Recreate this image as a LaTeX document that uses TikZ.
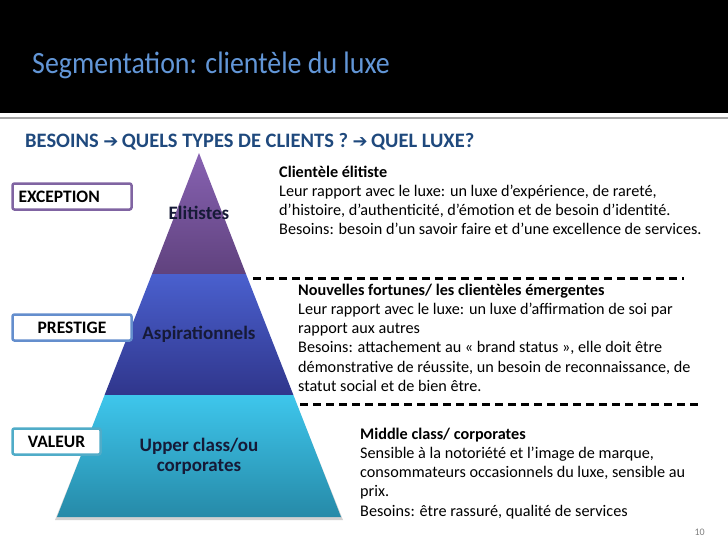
\documentclass[tikz,border=0pt]{standalone}
\usepackage{fontspec}
\setmainfont{Carlito}
\newfontfamily\dejavu{DejaVu Sans}
\definecolor{titleblue}{RGB}{98,150,215}
\definecolor{subblue}{RGB}{31,73,125}
\definecolor{purpT}{RGB}{135,98,178}
\definecolor{purpB}{RGB}{96,66,126}
\definecolor{blueT}{RGB}{74,96,206}
\definecolor{blueB}{RGB}{48,54,140}
\definecolor{cyanT}{RGB}{62,198,236}
\definecolor{cyanB}{RGB}{38,138,168}
\definecolor{pyrtext}{RGB}{22,26,55}
\definecolor{excB}{RGB}{128,100,162}
\definecolor{preB}{RGB}{100,142,205}
\definecolor{valB}{RGB}{80,172,200}
\tikzset{
  lbox/.style={draw=#1, line width=2.5pt, rounded corners=2pt, fill=white,
    minimum height=26pt, inner ysep=0pt, anchor=north west,
    font=\bfseries\fontsize{17.5}{17.5}\selectfont, text=black},
  pyrlabel/.style={font=\bfseries\fontsize{19}{20}\selectfont, text=pyrtext, align=center, inner sep=0pt},
  body/.style={anchor=base west, inner sep=0pt, font=\fontsize{16.2}{19.3}\selectfont, text=black},
  dashline/.style={line width=3pt, dash pattern=on 8pt off 5pt}
}
\begin{document}
\begin{tikzpicture}[x=1pt,y=-1pt]
\useasboundingbox (0,0) rectangle (728,546);
% header
\fill[black] (0,0) rectangle (728,113);
\draw[gray!70, line width=1.5pt] (0,118) -- (728,118);
\node[anchor=base west, inner sep=0pt, text=titleblue, font=\fontsize{31}{31}\selectfont] (title) at (32,73) {\scalebox{0.9}[1]{Segmentation: clientèle du luxe}};
% subheading
\node[anchor=base west, inner sep=0pt, text=subblue, font=\bfseries\fontsize{20.5}{20.5}\selectfont] (sub) at (25,147) {BESOINS {\dejavu\bfseries\fontsize{18}{18}\selectfont ➔}\,QUELS TYPES DE CLIENTS ? {\dejavu\bfseries\fontsize{18}{18}\selectfont ➔}\,QUEL LUXE?};
% pyramid shadow
\fill[black, opacity=0.18] (104,398) -- (294,398) -- (343,520) -- (55,520) -- cycle;
% pyramid layers
\shade[top color=purpT, bottom color=purpB] (199,153) -- (246,274) -- (152,274) -- cycle;
\shade[top color=blueT, bottom color=blueB] (152,274) -- (246,274) -- (293.4,395) -- (104.6,395) -- cycle;
\shade[top color=cyanT, bottom color=cyanB] (104.6,395) -- (293.4,395) -- (341,517) -- (57,517) -- cycle;
\node[pyrlabel] (elit) at (199,213) {Elitistes};
\node[pyrlabel] (aspi) at (199,334) {Aspirationnels};
\node[pyrlabel] (upper) at (199,456) {Upper class/ou\\corporates};
% left boxes
\node[lbox=excB, minimum width=119pt, text width=107pt, inner xsep=6pt, align=left] (exc) at (11.25,182.25) {EXCEPTION};
\node[lbox=preB, minimum width=119pt, text width=107pt, inner xsep=6pt, align=center] (pre) at (11.25,313.25) {PRESTIGE};
\node[lbox=valB, minimum width=88pt, text width=76pt, inner xsep=6pt, align=center] (val) at (11.25,427.25) {VALEUR};
% dashed separators
\coordinate (d1a) at (253,278);
\coordinate (d1b) at (684,278);
\coordinate (d2a) at (300,404);
\coordinate (d2b) at (698,404);
\draw[dashline] (d1a) -- (d1b);
\draw[dashline] (d2a) -- (d2b);
% text blocks
\node[body] (t1) at (279,177) {\parbox[t]{445pt}{\raggedright\textbf{Clientèle élitiste}\\
Leur rapport avec le luxe: un luxe d’expérience, de rareté,\\
d’histoire, d’authenticité, d’émotion et de besoin d’identité.\\
Besoins: besoin d’un savoir faire et d’une excellence de services.}};
\node[body] (t2) at (298,295) {\parbox[t]{420pt}{\raggedright\textbf{Nouvelles fortunes/ les clientèles émergentes}\\
Leur rapport avec le luxe: un luxe d’affirmation de soi par\\
rapport aux autres\\
Besoins: attachement au «~brand status~», elle doit être\\
démonstrative de réussite, un besoin de reconnaissance, de\\
statut social et de bien être.}};
\node[body] (t3) at (360,439) {\parbox[t]{360pt}{\raggedright\textbf{Middle class/ corporates}\\
Sensible à la notoriété et l’image de marque,\\
consommateurs occasionnels du luxe, sensible au\\
prix.\\
Besoins: être rassuré, qualité de services}};
\node[anchor=base east, inner sep=0pt, text=gray, font=\fontsize{10}{10}\selectfont] (pg) at (705,535) {10};
\end{tikzpicture}
\end{document}
